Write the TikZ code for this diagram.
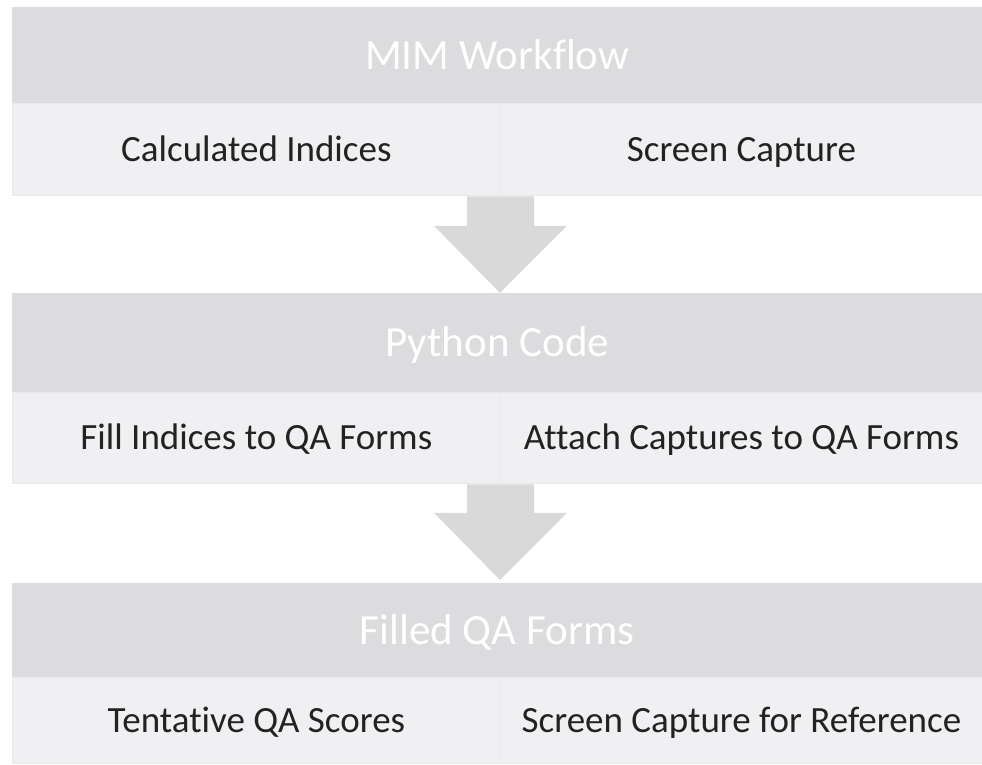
\documentclass[tikz,border=0pt]{standalone}
\usepackage{fontspec}
\setmainfont{Carlito}[Ligatures=NoCommon]
\usetikzlibrary{calc}
\definecolor{hdr}{HTML}{DCDBDD}
\definecolor{sub}{HTML}{F0EFF1}
\definecolor{arr}{HTML}{D9D9D9}
\definecolor{txt}{HTML}{222222}
\definecolor{sep}{HTML}{E9E8EA}
\begin{document}
\begin{tikzpicture}[x=1pt,y=-1pt,
  header/.style={fill=hdr, draw=none, minimum width=970pt, inner sep=0pt, anchor=north west, text=white, font=\fontsize{43}{50}\selectfont, text height=34pt, text depth=6.3pt},
  cell/.style={fill=sub, draw=sep, line width=0.8pt, inner sep=0pt, anchor=north west, text=txt, font=\fontsize{37}{44}\selectfont, text height=30pt, text depth=6.2pt},
  bigarrow/.style={fill=arr, draw=none}]
\useasboundingbox[fill=white] (0,0) rectangle (982,765);
% row 1
\node[header, minimum height=96pt] (h1) at (12,7) {MIM Workflow};
\node[cell, minimum width=488pt, minimum height=92pt] (c1l) at (12,103) {Calculated Indices};
\node[cell, minimum width=482pt, minimum height=92pt] (c1r) at (500,103) {Screen Capture};
% row 2
\node[header, minimum height=99pt] (h2) at (12,293) {Python Code};
\node[cell, minimum width=488pt, minimum height=91pt] (c2l) at (12,392) {Fill Indices to QA Forms};
\node[cell, minimum width=482pt, minimum height=91pt] (c2r) at (500,392) {Attach Captures to QA Forms};
% row 3
\node[header, minimum height=94pt] (h3) at (12,583) {Filled QA Forms};
\node[cell, minimum width=488pt, minimum height=86pt] (c3l) at (12,677) {Tentative QA Scores};
\node[cell, minimum width=482pt, minimum height=86pt] (c3r) at (500,677) {Screen Capture for Reference};
% arrows
\coordinate (a1s) at (c1r.south west);
\coordinate (a1t) at (h2.north -| a1s);
\fill[bigarrow] ($(a1s)+(-33,0.5)$) -- ($(a1s)+(-33,30)$) -- ($(a1s)+(-66,30)$) -- (a1t)
  -- ($(a1s)+(67,30)$) -- ($(a1s)+(34,30)$) -- ($(a1s)+(34,0.5)$) -- cycle;
\coordinate (a2s) at (c2r.south west);
\coordinate (a2t) at ($(h3.north -| a2s)+(0,-3)$);
\fill[bigarrow] ($(a2s)+(-33,0.5)$) -- ($(a2s)+(-33,29)$) -- ($(a2s)+(-66,29)$) -- (a2t)
  -- ($(a2s)+(67,29)$) -- ($(a2s)+(34,29)$) -- ($(a2s)+(34,0.5)$) -- cycle;
\end{tikzpicture}
\end{document}
